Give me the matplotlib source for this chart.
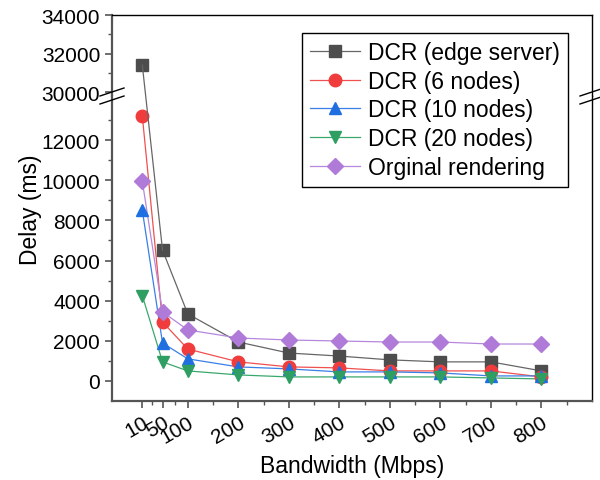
import numpy as np
import matplotlib
matplotlib.use('Agg')
import matplotlib.pyplot as plt
from matplotlib.lines import Line2D

plt.rcParams['font.family'] = ['Liberation Sans', 'DejaVu Sans']

# datos
bandwidth = [10, 50, 100, 200, 300, 400, 500, 600, 700, 800]
edge_server = [31400, 6520, 3340, 1940, 1390, 1240, 1050, 950, 950, 500]
nodes_6 = [13200, 2940, 1590, 950, 700, 650, 500, 500, 500, 200]
nodes_10 = [8500, 1890, 1100, 700, 600, 450, 450, 400, 250, 250]
nodes_20 = [4250, 950, 500, 300, 200, 200, 200, 200, 150, 100]
original = [9950, 3440, 2540, 2140, 2040, 1990, 1940, 1940, 1840, 1840]

series = [
    ('DCR (edge server)', edge_server, 's', '#4d4d4d', '#666666'),
    ('DCR (6 nodes)', nodes_6, 'o', '#f03c3c', '#f05050'),
    ('DCR (10 nodes)', nodes_10, '^', '#1f6fe0', '#3a7fe6'),
    ('DCR (20 nodes)', nodes_20, 'v', '#2e9e62', '#3aa86c'),
    ('Orginal rendering', original, 'D', '#b07ad8', '#b687dc'),
]

W, H = 600, 481
fig = plt.figure(figsize=(W / 100, H / 100), dpi=100)

left, right = 112 / W, 592 / W
y_top, y_brk, y_bot = 16, 97, 402
ax_up = fig.add_axes([left, 1 - y_brk / H, right - left, (y_brk - y_top) / H])
ax_lo = fig.add_axes([left, 1 - y_bot / H, right - left, (y_bot - y_brk) / H])
Y_UP = (29800, 34000)
Y_LO = (-1000, 14200)

for ax in (ax_up, ax_lo):
    for name, vals, mk, c, lc in series:
        ms = 9 if mk != 'D' else 8
        if name == 'DCR (edge server)':
            # la primera pieza cruza el corte: se dibuja aparte
            ax.plot(bandwidth[1:], vals[1:], color=lc, lw=0.9, zorder=2)
        else:
            ax.plot(bandwidth, vals, color=lc, lw=0.9, zorder=2)
        ax.plot(bandwidth, vals, ls='none', marker=mk, ms=ms,
                mfc=c, mec=c, zorder=3)
    ax.set_xlim(-50, 900)
    ax.spines['left'].set_color('#555555')
    ax.spines['left'].set_linewidth(1.6)
    ax.spines['right'].set_linewidth(1.0)
    ax.tick_params(axis='both', which='both', direction='out', color='#555555',
                   labelsize=15, right=False, top=False)
    ax.tick_params(which='major', length=5, width=1.2)
    ax.tick_params(which='minor', length=3, width=1.0)

ax_up.set_ylim(*Y_UP)
ax_up.set_yticks([30000, 32000, 34000])
ax_up.set_yticks([31000, 33000], minor=True)
ax_up.spines['bottom'].set_visible(False)
ax_up.spines['top'].set_linewidth(1.0)
ax_up.tick_params(axis='x', which='both', bottom=False, labelbottom=False)

ax_lo.set_ylim(*Y_LO)
ax_lo.set_yticks(np.arange(0, 12001, 2000))
ax_lo.set_yticks(np.arange(1000, 13001, 2000), minor=True)
ax_lo.spines['top'].set_visible(False)
ax_lo.spines['bottom'].set_color('#555555')
ax_lo.spines['bottom'].set_linewidth(1.6)
ax_lo.set_xticks(bandwidth)
ax_lo.set_xticks([30, 75, 150, 250, 350, 450, 550, 650, 750, 850], minor=True)
ax_lo.set_xticklabels([str(b) for b in bandwidth], rotation=30, ha='right',
                      rotation_mode='anchor')

ax_lo.set_xlabel('Bandwidth (Mbps)', fontsize=16.5, labelpad=5)
fig.text(30 / W, 1 - 210 / H, 'Delay (ms)', rotation=90, fontsize=16.5,
         ha='center', va='center')

# segmento 10 -> 50 de edge server atravesando el corte
fig.canvas.draw()
p0 = ax_up.transData.transform((bandwidth[0], edge_server[0]))
p1 = ax_lo.transData.transform((bandwidth[1], edge_server[1]))
fig.add_artist(Line2D([p0[0], p1[0]], [p0[1], p1[1]], transform=None,
                      color='#666666', lw=0.9, zorder=1))

# marcas de corte del eje
for xb in (left, right):
    for dy in (-4, 4):
        yb = 1 - (y_brk + dy) / H
        fig.add_artist(Line2D([xb - 12 / W, xb + 12 / W],
                              [yb - 4 / H, yb + 4 / H], color='black', lw=1.0))

handles = [Line2D([], [], color=lc, lw=0.9, marker=mk, ms=9 if mk != 'D' else 8,
                  mfc=c, mec=c) for name, vals, mk, c, lc in series]
fig.legend(handles, [s[0] for s in series], loc='upper left',
           bbox_to_anchor=(302 / W, 1 - 34 / H), fontsize=16.5, frameon=True,
           fancybox=False, edgecolor='black', framealpha=1, borderaxespad=0,
           handlelength=2.2, labelspacing=0.25, borderpad=0.35, handletextpad=0.35)

plt.savefig('out.png', dpi=100)
